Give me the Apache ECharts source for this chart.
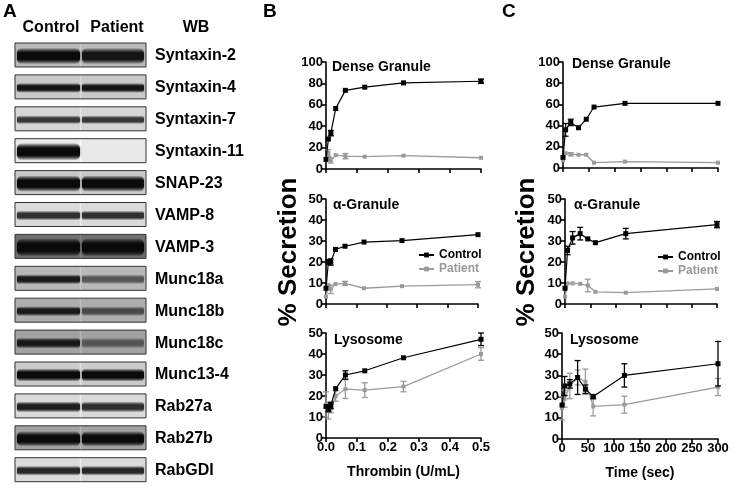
<!DOCTYPE html>
<html><head><meta charset="utf-8">
<script src="https://cdn.jsdelivr.net/npm/echarts/dist/echarts.min.js"></script>
<style>html,body{margin:0;padding:0;background:#fff}#c{width:733px;height:485px}</style>
</head><body><div id="c"></div><script>
// ---------- Panel A (western blots) ----------
const blotNames = ['Syntaxin-2','Syntaxin-4','Syntaxin-7','Syntaxin-11','SNAP-23','VAMP-8','VAMP-3','Munc18a','Munc18b','Munc18c','Munc13-4','Rab27a','Rab27b','RabGDI'];
const laneNames = ['Control','Patient'];
const bandControl = [1.0,0.9,0.7,1.0,1.0,0.75,1.0,0.85,0.85,0.85,1.0,0.85,1.0,0.8];
const bandPatient = [0.9,0.9,0.7,0.0,1.0,0.75,1.0,0.5,0.55,0.45,1.0,0.75,1.0,0.8];
// styling of blot images
const blotBackground = [0.3,0.22,0.14,0.03,0.22,0.12,0.75,0.32,0.38,0.45,0.2,0.12,0.45,0.12];
const bandThickness = [0.75,0.45,0.4,0.8,0.75,0.45,0.85,0.45,0.45,0.5,0.6,0.5,0.7,0.45];

// ---------- Panels B and C ----------
const thrombinDoses = [0, 0.0078, 0.0156, 0.03125, 0.0625, 0.125, 0.25, 0.5];
const timePoints = [0, 5, 15, 30, 45, 60, 120, 300];
const thrombinTicks = [0, 0.1, 0.2, 0.3, 0.4, 0.5];
const timeTicks = [0, 50, 100, 150, 200, 250, 300];

const bDenseControl = [9, 28, 33.5, 56.5, 73.5, 76.5, 80.5, 82];
const bDenseControlErr = [0, 0, 2.5, 0, 0, 0, 0, 2];
const bDensePatient = [9, 15, 8, 13, 12, 11.5, 12.5, 10.5];
const bDensePatientErr = [0, 3, 2.5, 0, 2.5, 0, 0, 0];

const bAlphaControl = [7.5, 20, 20, 26, 27.5, 29.5, 30.2, 33];
const bAlphaControlErr = [0, 1, 1.5, 0, 0, 0, 0, 0];
const bAlphaPatient = [3.5, 9, 7, 9.5, 9.8, 7.5, 8.5, 9.2];
const bAlphaPatientErr = [0, 0, 2, 0, 1, 0, 0, 1.5];

const bLysoControl = [15, 14, 15.5, 23.5, 30, 32, 38.2, 47];
const bLysoControlErr = [0, 1.5, 1.5, 0, 2, 0, 0, 3];
const bLysoPatient = [16, 13, 14, 20, 23.3, 22.8, 24.5, 40];
const bLysoPatientErr = [6, 4, 2, 2.5, 4.5, 3.5, 2.5, 3];

const cDenseControl = [10, 36, 43, 38, 46, 57.5, 61, 61];
const cDenseControlErr = [0, 6, 3, 0, 0, 0, 0, 0];
const cDensePatient = [7, 14, 13, 12.5, 12.5, 5, 6, 5];
const cDensePatientErr = [0, 0, 1.5, 0, 0, 0, 0, 0];

const cAlphaControl = [7.5, 25.5, 31.5, 33.5, 31, 29.2, 33.5, 37.8];
const cAlphaControlErr = [0, 2, 3, 3, 0, 0, 2.5, 1.5];
const cAlphaPatient = [3.5, 9.8, 9.8, 9.6, 8.8, 5.8, 5.4, 7.2];
const cAlphaPatientErr = [0, 0, 0, 0, 3, 0, 0, 0];

const cLysoControl = [16, 25, 26, 29, 23.5, 20, 30, 35.5];
const cLysoControlErr = [0, 4.5, 2, 8, 2, 1, 5.5, 10.5];
const cLysoPatient = [14.5, 19, 25, 29, 27, 15.4, 16.2, 24.5];
const cLysoPatientErr = [5.5, 4, 6, 3.5, 6, 4.5, 4, 4];

const panelTitles = ['Dense Granule','\u03B1-Granule','Lysosome'];

// ---------- build ----------
const FF = '"Liberation Sans", Arial, Helvetica, sans-serif';
const CTRL = '#000';
const PAT = '#9a9a9a';

const panels = [
  {grid:{left:326,top:62,width:155,height:107}, xs:thrombinDoses, ticks:thrombinTicks, ymax:100, yint:20, lab:false, t:0, tp:[332,67], c:bDenseControl, ce:bDenseControlErr, p:bDensePatient, pe:bDensePatientErr},
  {grid:{left:326,top:199,width:152,height:105}, xs:thrombinDoses, ticks:thrombinTicks, ymax:50, yint:10, lab:false, t:1, tp:[333,205], c:bAlphaControl, ce:bAlphaControlErr, p:bAlphaPatient, pe:bAlphaPatientErr},
  {grid:{left:326,top:333,width:155,height:105}, xs:thrombinDoses, ticks:thrombinTicks, ymax:50, yint:10, lab:true, name:'Thrombin (U/mL)', t:2, tp:[334,340], c:bLysoControl, ce:bLysoControlErr, p:bLysoPatient, pe:bLysoPatientErr},
  {grid:{left:563,top:62,width:155,height:106}, xs:timePoints, ticks:timeTicks, ymax:100, yint:20, lab:false, t:0, tp:[572,64], c:cDenseControl, ce:cDenseControlErr, p:cDensePatient, pe:cDensePatientErr},
  {grid:{left:565,top:199,width:152,height:105}, xs:timePoints, ticks:timeTicks, ymax:50, yint:10, lab:false, t:1, tp:[574,205], c:cAlphaControl, ce:cAlphaControlErr, p:cAlphaPatient, pe:cAlphaPatientErr},
  {grid:{left:562,top:333,width:156,height:106}, xs:timePoints, ticks:timeTicks, ymax:50, yint:10, lab:true, name:'Time (sec)', t:2, tp:[570,340], c:cLysoControl, ce:cLysoControlErr, p:cLysoPatient, pe:cLysoPatientErr}
];

function errRender(color){
  return function(params, api){
    const x = api.value(0), lo = api.value(1), hi = api.value(2);
    const a = api.coord([x, lo]), b = api.coord([x, hi]);
    const w = 3, st = {stroke: color, lineWidth: 1.3};
    return {type:'group', children:[
      {type:'line', shape:{x1:a[0],y1:a[1],x2:b[0],y2:b[1]}, style:st},
      {type:'line', shape:{x1:a[0]-w,y1:a[1],x2:a[0]+w,y2:a[1]}, style:st},
      {type:'line', shape:{x1:b[0]-w,y1:b[1],x2:b[0]+w,y2:b[1]}, style:st}
    ]};
  };
}

const grids = [], xAxes = [], yAxes = [], series = [], graphic = [];
const axLine = {show:true, onZero:false, lineStyle:{color:'#000', width:1.6}};
const axTick = {show:true, length:4, lineStyle:{color:'#000', width:1.6}};
const axLab = {color:'#000', fontWeight:'bold', fontSize:13, fontFamily:FF, margin:3};

panels.forEach((P, i) => {
  grids.push(Object.assign({containLabel:false}, P.grid));
  const tmin = P.ticks[0], tmax = P.ticks[P.ticks.length-1], tint = P.ticks[1]-P.ticks[0];
  xAxes.push({type:'value', gridIndex:i, min:tmin, max:tmax, interval:tint,
    axisLine:axLine, axisTick:axTick, splitLine:{show:false},
    axisLabel:Object.assign({show:P.lab, formatter: v => (tmax < 1 ? v.toFixed(1) : String(Math.round(v)))}, axLab),
    name:P.name || '', nameLocation:'middle', nameGap:27,
    nameTextStyle:{color:'#000', fontWeight:'bold', fontSize:14, fontFamily:FF}});
  yAxes.push({type:'value', gridIndex:i, min:0, max:P.ymax, interval:P.yint,
    axisLine:axLine, axisTick:axTick, splitLine:{show:false}, axisLabel:axLab});
  const mk = (vals) => P.xs.map((x, j) => [x, vals[j]]);
  const mkErr = (vals, errs) => P.xs.map((x, j) => [x, vals[j]-errs[j], vals[j]+errs[j], errs[j]]).filter(d => d[3] > 0);
  series.push({type:'line', name:'Patient', xAxisIndex:i, yAxisIndex:i, data:mk(P.p), symbol:'rect', symbolSize:4,
    lineStyle:{color:PAT, width:1.3}, itemStyle:{color:PAT}, z:2});
  series.push({type:'custom', name:'Patient err', xAxisIndex:i, yAxisIndex:i, data:mkErr(P.p, P.pe),
    renderItem:errRender(PAT), encode:{x:0, y:[1,2]}, z:2, silent:true});
  series.push({type:'line', name:'Control', xAxisIndex:i, yAxisIndex:i, data:mk(P.c), symbol:'rect', symbolSize:5,
    lineStyle:{color:CTRL, width:1.2}, itemStyle:{color:CTRL}, z:3});
  series.push({type:'custom', name:'Control err', xAxisIndex:i, yAxisIndex:i, data:mkErr(P.c, P.ce),
    renderItem:errRender(CTRL), encode:{x:0, y:[1,2]}, z:3, silent:true});
  graphic.push({type:'text', x:P.tp[0], y:P.tp[1], style:{text:panelTitles[P.t], fill:'#000',
    font:'bold 14px ' + FF, align:'left', verticalAlign:'middle', textAlign:'left', textVerticalAlign:'middle'}});
});

// panel letters and y titles
[['A',3,2],['B',263,2],['C',502,2]].forEach(l => graphic.push({type:'text', x:l[1], y:l[2],
  style:{text:l[0], fill:'#000', font:'bold 19px ' + FF, align:'left', verticalAlign:'top', textAlign:'left', textVerticalAlign:'top'}}));
[[289,252],[527,252]].forEach(p => graphic.push({type:'text', x:p[0], y:p[1], rotation:Math.PI/2,
  style:{text:'% Secretion', fill:'#000', font:'bold 26px ' + FF, align:'center', verticalAlign:'middle', textAlign:'center', textVerticalAlign:'middle'}}));

// blot panel
const hdr = [[laneNames[0],51],[laneNames[1],117],['WB',196]];
hdr.forEach(h => graphic.push({type:'text', x:h[1], y:28, style:{text:h[0], fill:'#000',
  font:'bold 16px ' + FF, align:'center', verticalAlign:'middle', textAlign:'center', textVerticalAlign:'middle'}}));
blotNames.forEach((nm, i) => {
  const top = 43 + i * 31.9, h = 24, bx = 15, bw = 131;
  const g = Math.round(238 - blotBackground[i] * 170);
  const gl = Math.min(250, g + 18);
  graphic.push({type:'rect', shape:{x:bx, y:top, width:bw, height:h},
    style:{fill:{type:'linear', x:0, y:0, x2:1, y2:0, colorStops:[
      {offset:0, color:'rgb(' + g + ',' + g + ',' + g + ')'},
      {offset:0.49, color:'rgb(' + g + ',' + g + ',' + g + ')'},
      {offset:0.5, color:'rgb(' + gl + ',' + gl + ',' + gl + ')'},
      {offset:0.51, color:'rgb(' + g + ',' + g + ',' + g + ')'},
      {offset:1, color:'rgb(' + g + ',' + g + ',' + g + ')'}]}, stroke:'#333', lineWidth:1}});
  const th = Math.max(4, (h - 2) * bandThickness[i]);
  [[bx + 2, 63, bandControl[i]], [bx + 67, 62, bandPatient[i]]].forEach(b => {
    if (b[2] <= 0) return;
    const c1 = 'rgba(10,10,10,' + b[2] + ')', c0 = 'rgba(10,10,10,0)';
    graphic.push({type:'rect', shape:{x:b[0], y:top + h/2 - th/2 + 1, width:b[1], height:th, r:th/3},
      style:{fill:{type:'linear', x:0, y:0, x2:0, y2:1, colorStops:[
        {offset:0, color:c0}, {offset:0.3, color:c1}, {offset:0.7, color:c1}, {offset:1, color:c0}]},
        shadowBlur:3, shadowColor:'rgba(10,10,10,' + (b[2]*0.5) + ')'}});
  });
  graphic.push({type:'text', x:155, y:top + h/2 + 1, style:{text:nm, fill:'#000',
    font:'bold 16px ' + FF, align:'left', verticalAlign:'middle', textAlign:'left', textVerticalAlign:'middle'}});
});

const legendBase = {orient:'vertical', itemWidth:15, itemHeight:6, itemGap:2, padding:0,
  textStyle:{fontWeight:'bold', fontSize:12, fontFamily:FF},
  data:[{name:'Control', textStyle:{color:'#000'}}, {name:'Patient', textStyle:{color:'#999'}}]};

const chart = echarts.init(document.getElementById('c'), null, {renderer:'canvas'});
chart.setOption({
  animation:false,
  backgroundColor:'#fff',
  grid:grids, xAxis:xAxes, yAxis:yAxes, series:series,
  legend:[Object.assign({left:418, top:249}, legendBase), Object.assign({left:657, top:251}, legendBase)],
  graphic:graphic
});
</script></body></html>
